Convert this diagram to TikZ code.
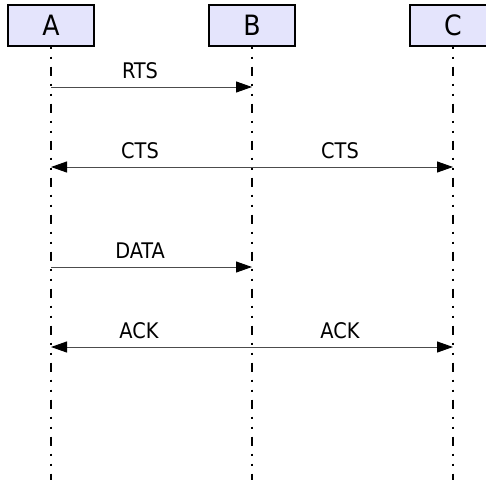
\documentclass[tikz,border=0pt]{standalone}
\usepackage{fontspec}
\setmainfont{DejaVu Sans Condensed}
\usetikzlibrary{arrows.meta}
\definecolor{entityfill}{RGB}{228,228,252}
\begin{document}
\begin{tikzpicture}[x=1pt,y=-1pt,
  entity/.style={draw=black,line width=1.4pt,fill=entityfill,minimum width=86pt,
    minimum height=41pt,inner sep=0pt,font=\fontsize{28}{28}\selectfont},
  lifeline/.style={line width=2.6pt,
    dash pattern=on 9pt off 8pt on 2pt off 8pt on 2pt off 8pt,dash phase=17pt},
  msg/.style={line width=1pt,draw=black!70,
    -{Triangle[length=16pt,width=11pt,fill=black,color=black]}},
  lbl/.style={font=\fontsize{21.5}{21.5}\selectfont,anchor=base}]
\useasboundingbox (0,0) rectangle (486,479);
% entities
\node[entity] (A) at (51,25.5) {A};
\node[entity] (B) at (252,25.5) {B};
\node[entity] (C) at (453,25.5) {C};
% lifeline ends
\coordinate (Aend) at (51,480);
\coordinate (Bend) at (252,480);
\coordinate (Cend) at (453,480);
\draw[lifeline] (A.south) -- (Aend);
\draw[lifeline] (B.south) -- (Bend);
\draw[lifeline] (C.south) -- (Cend);
% message points on the lifelines
\foreach \n/\y in {1/87,2/167,3/267,4/347}{
  \coordinate (a\n) at (51,\y);
  \coordinate (b\n) at (252,\y);
  \coordinate (c\n) at (453,\y);
}
% RTS
\draw[msg] (a1) -- (b1);
\node[lbl] (rts) at (140,78) {RTS};
% CTS
\draw[msg] (b2) -- (a2);
\draw[msg] (b2) -- (c2);
\node[lbl] (cts1) at (140,158) {CTS};
\node[lbl] (cts2) at (340,158) {CTS};
% DATA
\draw[msg] (a3) -- (b3);
\node[lbl] (data) at (140,258) {DATA};
% ACK
\draw[msg] (b4) -- (a4);
\draw[msg] (b4) -- (c4);
\node[lbl] (ack1) at (139,338) {ACK};
\node[lbl] (ack2) at (340,338) {ACK};
\end{tikzpicture}
\end{document}
